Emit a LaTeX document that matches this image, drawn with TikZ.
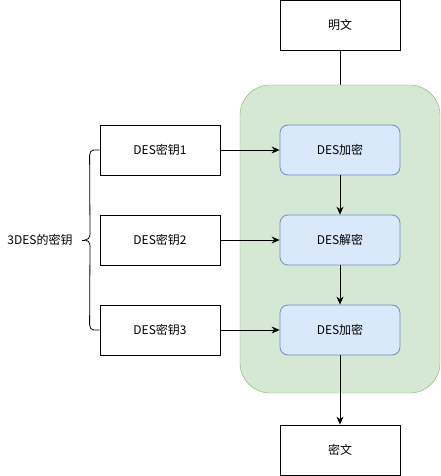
\documentclass[tikz,border=0pt]{standalone}
\usepackage{fontspec}
\setmainfont{Noto Sans CJK SC}
\usetikzlibrary{calc, arrows.meta}

\definecolor{grnfill}{HTML}{D5E8D4}
\definecolor{grnline}{HTML}{82B366}
\definecolor{bluefill}{HTML}{DAE8FC}
\definecolor{blueline}{HTML}{6C8EBF}

\tikzset{
  plainbox/.style={draw, thick, minimum width=120pt, minimum height=50pt, font=\fontsize{12}{14}\selectfont},
  desbox/.style={plainbox, draw=blueline, fill=bluefill, rounded corners=8pt},
  flow/.style={thick, -{Stealth[length=8pt,width=7pt]}}
}

\begin{document}
\begin{tikzpicture}[x=1pt,y=-1pt]
      \useasboundingbox (0,0) rectangle (441,476);

      \node[plainbox] (plain) at (340,25) {明文};
      \node[plainbox] (cipher) at (340,450) {密文};

      % line from plaintext runs behind the container
      \coordinate (top) at (340,125);
      \draw[thick] (plain.south) -- (top);
      \filldraw[fill=grnfill, draw=grnline, rounded corners=30pt] (240,85) rectangle (440,393);

      \node[desbox] (enc1) at (340,150) {DES加密};
      \node[desbox] (dec) at (340,240) {DES解密};
      \node[desbox] (enc2) at (340,330) {DES加密};

      \node[plainbox] (k1) at (160,150) {DES密钥1};
      \node[plainbox] (k2) at (160,240) {DES密钥2};
      \node[plainbox] (k3) at (160,330) {DES密钥3};

      \draw[flow] (k1) -- (enc1);
      \draw[flow] (k2) -- (dec);
      \draw[flow] (k3) -- (enc2);
      \draw[flow] (enc1) -- (dec);
      \draw[flow] (dec) -- (enc2);
      \draw[flow] (enc2) -- (cipher);

      % brace
      \node[font=\fontsize{12}{14}\selectfont] (keys) at (40,240) {3DES的密钥};
      \coordinate (tip) at (85,240);
      \draw[thick] (k1.west) -- ++(-6,0) to[out=180,in=90] ($(k1.west)+(-10,5)$)
        -- ($(tip)+(5,-5)$) to[out=-90,in=0] (tip)
        to[out=0,in=90] ($(tip)+(5,5)$) -- ($(k3.west)+(-10,-5)$)
        to[out=-90,in=180] ($(k3.west)+(-6,0)$) -- (k3.west);
      \draw[thick] ($(tip)+(-3,0)$) -- (tip);
\end{tikzpicture}
\end{document}
